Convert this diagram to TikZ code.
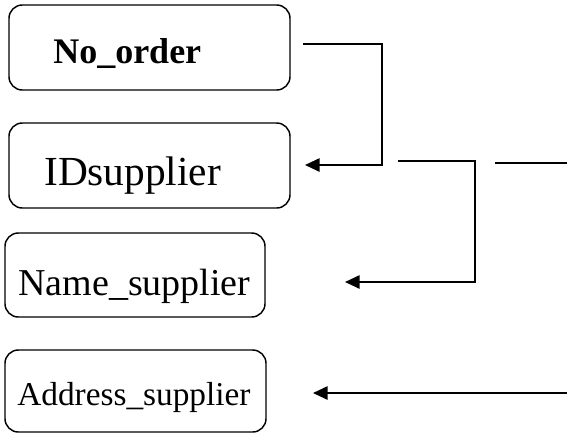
\documentclass[tikz,border=0pt]{standalone}
\usepackage{fontspec}
\setmainfont{Liberation Serif}
\usetikzlibrary{arrows.meta}
\begin{document}
\begin{tikzpicture}[x=0.75pt,y=-0.75pt]
%%%%%%%%%%%%%%%%%%%%%%%%%%%%%%%%%%%%%%%%%%%%%%%%%%%%%%%%
% STYLE
\tikzstyle{field}=[rectangle,draw,rounded corners=10pt,line width=1.1pt,inner sep=0pt]
\tikzstyle{txt}=[anchor=base west,inner sep=0pt]

\tikzset{link/.style={line width=1.4pt}}
\tikzset{arr/.style={link,-{Triangle[length=11pt,width=10pt]}}}

\useasboundingbox (0,0) rectangle (567,433);

%%%%%%%%%%%%%%%%%%%%%%%%%%%%%%%%%%%%%%%%%%%%%%%%%%%%%%%%
% NODES
\node[field,minimum width=210.75pt,minimum height=63.75pt] (order) at (149.5,47.5) {};
\node[field,minimum width=210.75pt,minimum height=63.75pt] (idsup) at (149.5,165.5) {};
\node[field,minimum width=195pt,minimum height=63pt] (namesup) at (135,275) {};
\node[field,minimum width=195.75pt,minimum height=61.5pt] (addrsup) at (135.5,391) {};

\node[txt,font=\fontsize{27}{27}\selectfont\bfseries] (Torder) at (53,63) {No\_order};
\node[txt,font=\fontsize{31}{31}\selectfont] (Tidsup) at (44,185) {IDsupplier};
\node[txt,font=\fontsize{28.5}{28.5}\selectfont] (Tnamesup) at (18,295) {Name\_supplier};
\node[txt,font=\fontsize{25}{25}\selectfont] (Taddrsup) at (17,405) {Address\_supplier};

%%%%%%%%%%%%%%%%%%%%%%%%%%%%%%%%%%%%%%%%%%%%%%%%%%%%%%%%
% LINKS
\coordinate (L1s) at (303,44);
\coordinate (L1b) at (382,165);
\coordinate (L1e) at (305,165);

\coordinate (L2s) at (398,161);
\coordinate (L2b) at (475,282);
\coordinate (L2e) at (345,282);

\coordinate (L3s) at (495,163);
\coordinate (L3e) at (567,163);

\coordinate (L4s) at (567,393);
\coordinate (L4e) at (313,393);

\draw[arr] (L1s) -| (L1b) -- (L1e);
\draw[arr] (L2s) -| (L2b) -- (L2e);
\draw[link] (L3s) -- (L3e);
\draw[arr] (L4s) -- (L4e);

\end{tikzpicture}
\end{document}
